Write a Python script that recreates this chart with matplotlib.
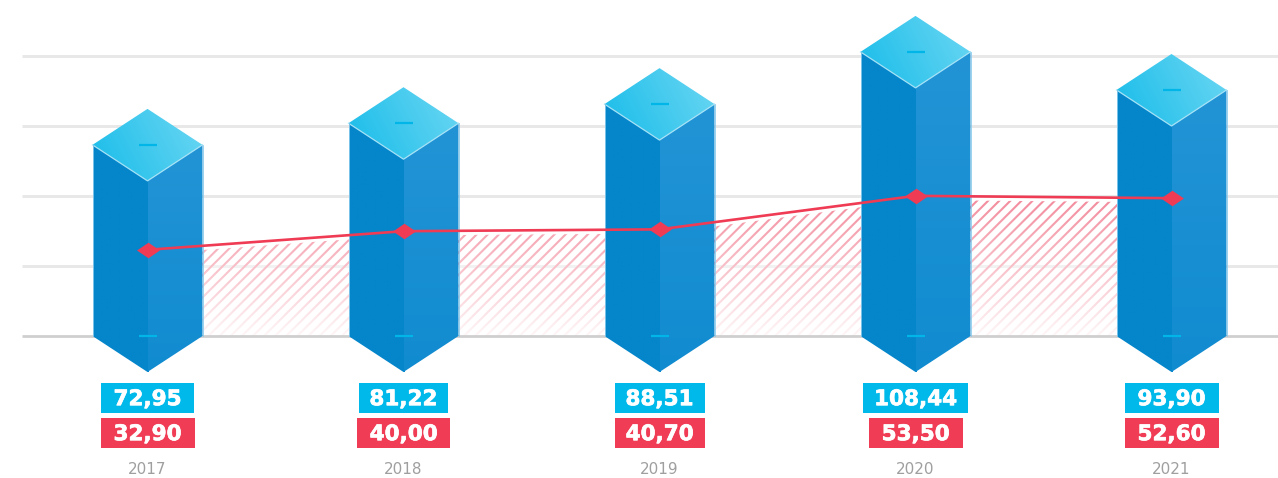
import numpy as np
import matplotlib
matplotlib.use('Agg')
import matplotlib.pyplot as plt
import matplotlib.patheffects as pe
from matplotlib.colors import LinearSegmentedColormap
from matplotlib.patches import Polygon, Rectangle
from matplotlib.path import Path

plt.rcParams['hatch.linewidth'] = 1.5

years = ['2017', '2018', '2019', '2020', '2021']
bar_values = [72.95, 81.22, 88.51, 108.44, 93.90]
line_values = [32.90, 40.00, 40.70, 53.50, 52.60]
bar_labels = ['72,95', '81,22', '88,51', '108,44', '93,90']
line_labels = ['32,90', '40,00', '40,70', '53,50', '52,60']
grid_values = [26.7, 53.4, 80.2, 106.9]

# label box widths in pixels
blue_w = [93, 89, 90, 105, 94]
red_w = [94, 93, 90, 94, 94]

W, H = 1278, 478
PX_X = 256.0   # pixels per category
PX_Y = 2.62    # pixels per value unit
X0, Y0 = 147.5, 336
HALF_W = 55 / PX_X
HALF_D = 36 / PX_Y
DASH = 9 / PX_X
OVERLAP = 1.5 / PX_X

fig = plt.figure(figsize=(W / 100, H / 100), dpi=100)
ax = fig.add_axes([0, 0, 1, 1])
xlim = (-X0 / PX_X, (W - X0) / PX_X)
ylim = ((Y0 - H) / PX_Y, Y0 / PX_Y)
grid_left = (22 - X0) / PX_X


def gradient(poly, c1, c2, z, angle=0.0):
    # gradient image clipped to a polygon
    v = np.array(poly.get_xy())
    gx, gy = np.meshgrid(np.linspace(0, 1, 64), np.linspace(1, 0, 64))
    g = (1 - angle) * gx + angle * gy
    cmap = LinearSegmentedColormap.from_list('g', [c1, c2])
    im = ax.imshow(g, cmap=cmap, vmin=0, vmax=1, aspect='auto', zorder=z,
                   extent=(v[:, 0].min(), v[:, 0].max(), v[:, 1].min(), v[:, 1].max()))
    ax.add_patch(poly)
    im.set_clip_path(poly)


def label_box(x, py, w, text, color):
    ax.add_patch(Rectangle((x - w / 2 / PX_X, (Y0 - py - 15) / PX_Y), w / PX_X, 30 / PX_Y,
                           fc=color, ec='none', zorder=10))
    ax.text(x, (Y0 - py + 0.8) / PX_Y, text, ha='center', va='center_baseline', color='white',
            fontsize=15.5, fontweight='bold', zorder=11,
            path_effects=[pe.withStroke(linewidth=0.5, foreground='white')])


xs = np.arange(len(years))

for g in grid_values:
    ax.plot([grid_left, xlim[1]], [g, g], color='#e8e8e8', lw=2.1, zorder=1, solid_capstyle='butt')

# hatched area under the line
ax.fill_between(xs, np.array(line_values) - 1.6, 0, facecolor='none', edgecolor='#f3889a',
                hatch='///', linewidth=0, zorder=2)
fade = np.ones((100, 2, 4))
fade[:, :, 3] = np.linspace(0.0, 0.93, 100)[:, None]
ax.imshow(fade, aspect='auto', zorder=3, extent=(xs[0], xs[-1], 0, 54))

ax.plot([grid_left, xlim[1]], [0, 0], color='#cfcfcf', lw=2.0, zorder=4, solid_capstyle='butt')

for x, v in zip(xs, bar_values):
    left = Polygon([(x - HALF_W, v), (x + OVERLAP, v - HALF_D), (x + OVERLAP, -HALF_D), (x, -HALF_D), (x - HALF_W, 0)],
                   fc='none', ec='none', zorder=5)
    gradient(left, '#0585ca', '#0586cb', 5)
    right = Polygon([(x, v - HALF_D), (x + HALF_W, v), (x + HALF_W, 0), (x, -HALF_D)],
                    fc='none', ec='none', zorder=5.1)
    gradient(right, '#118bd0', '#2294d6', 5.1, angle=1.0)
    top = Polygon([(x - HALF_W, v), (x, v + HALF_D), (x + HALF_W, v), (x, v - HALF_D)],
                  fc='none', ec='none', zorder=6)
    gradient(top, '#18bce9', '#6cd7f3', 6, angle=0.25)
    # light edges
    ax.plot([x - HALF_W, x, x + HALF_W], [v, v - HALF_D, v], color='#a5e2f6', lw=0.9, zorder=7)
    ax.plot([x - HALF_W, x - HALF_W], [v, 0], color='#7cc3e9', lw=0.7, zorder=7)
    ax.plot([x + HALF_W, x + HALF_W], [v, 0], color='#8ccbee', lw=0.6, zorder=7)
    # small dashes
    ax.plot([x - DASH, x + DASH], [v, v], color='#00b6e8', lw=1.6, zorder=8, solid_capstyle='butt')
    ax.plot([x - DASH, x + DASH], [0, 0], color='#00b6e8', lw=1.6, zorder=8, solid_capstyle='butt')

diamond = Path([(-1, 0), (0, 0.68), (1, 0), (0, -0.68), (-1, 0)], closed=True)
ax.plot(xs, line_values, color='#ef3b54', lw=1.9, marker=diamond, ms=16.5,
        mfc='#ef3b54', mec='none', zorder=9)

for i, x in enumerate(xs):
    label_box(x, 398, blue_w[i], bar_labels[i], '#00b9eb')
    label_box(x, 433, red_w[i], line_labels[i], '#f03c55')
    ax.text(x, (Y0 - 469) / PX_Y, years[i], ha='center', va='center', color='#9f9f9f',
            fontsize=11, zorder=10)

ax.set_xlim(*xlim)
ax.set_ylim(*ylim)
ax.axis('off')
fig.savefig('out.png', dpi=100, facecolor='white')
